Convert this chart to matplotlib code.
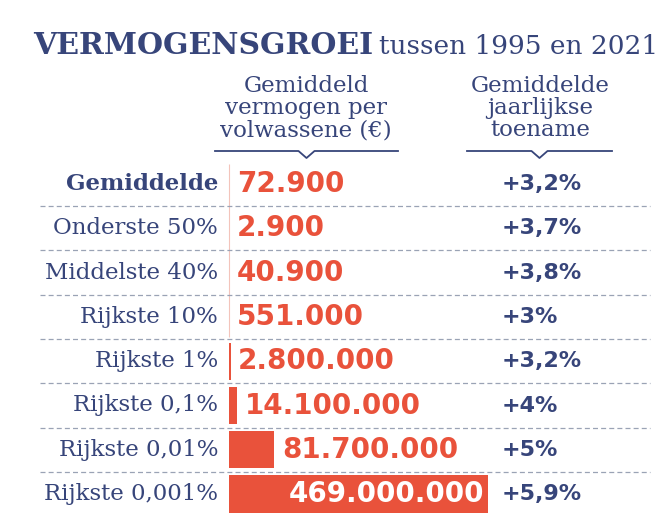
import matplotlib
matplotlib.use("Agg")
import matplotlib.pyplot as plt
from matplotlib.lines import Line2D

groups = ["Gemiddelde", "Onderste 50%", "Middelste 40%", "Rijkste 10%",
          "Rijkste 1%", "Rijkste 0,1%", "Rijkste 0,01%", "Rijkste 0,001%"]
wealth = [72900, 2900, 40900, 551000, 2800000, 14100000, 81700000, 469000000]
wealth_labels = ["72.900", "2.900", "40.900", "551.000", "2.800.000",
                 "14.100.000", "81.700.000", "469.000.000"]
growth = ["+3,2%", "+3,7%", "+3,8%", "+3%", "+3,2%", "+4%", "+5%", "+5,9%"]

NAVY = "#37457a"
RED = "#e9523b"
W, H = 670, 528

fig = plt.figure(figsize=(W / 100, H / 100), dpi=100)
ax = fig.add_axes([0, 0, 1, 1])
ax.axis("off")

# map data to pixels: 0 -> x=229, max -> x=488 ; row i -> y=184+44.3*i
s = max(wealth) / (488 - 229)
ax.set_xlim(-229 * s, (W - 229) * s)
ax.set_ylim((H - 184) / 44.3, -184 / 44.3)

ys = list(range(len(groups)))
ax.barh(ys, wealth, height=0.84, color=RED, left=0)
ax.vlines(0, -0.45, 3.45, color="#f3c4bb", lw=0.8)

for i in range(len(groups) - 1):
    ax.hlines(i + 0.5, 40 / W, 650 / W, transform=ax.get_yaxis_transform(),
              colors="#9aa3b5", linestyles=(0, (4, 2.5)), lw=0.9)

for i, (g, v, lab, gr) in enumerate(zip(groups, wealth, wealth_labels, growth)):
    ax.text(-11 * s, i, g, ha="right", va="center", fontsize=16.5,
            family="DejaVu Serif", color=NAVY,
            fontweight="bold" if i == 0 else "normal")
    if i == len(groups) - 1:
        ax.annotate(lab, (v, i), xytext=(-3, 0), textcoords="offset points",
                    ha="right", va="center", fontsize=20, fontweight="heavy",
                    color="white")
    else:
        ax.annotate(lab, (v, i), xytext=(5.5, 0), textcoords="offset points",
                    ha="left", va="center", fontsize=20, fontweight="heavy",
                    color=RED)
    ax.text(502 * s - 229 * s, i, gr, ha="left", va="center", fontsize=16,
            fontweight="bold", color=NAVY)

# title
t1 = fig.text(33 / W, 1 - 46 / H, "VERMOGENSGROEI", ha="left", va="center",
              fontsize=21.5, fontweight="heavy", family="DejaVu Serif",
              color=NAVY)
fig.canvas.draw()
bb = t1.get_window_extent()
fig.text((bb.x1 + 6) / W, 1 - 46 / H, "tussen 1995 en 2021", ha="left",
         va="center", fontsize=19, family="DejaVu Serif", color=NAVY)

# column headers
fig.text(306 / W, 1 - 108 / H, "Gemiddeld\nvermogen per\nvolwassene (€)",
         ha="center", va="center", fontsize=16.5, family="DejaVu Serif",
         color=NAVY, linespacing=1.0)
fig.text(540 / W, 1 - 108 / H, "Gemiddelde\njaarlijkse\ntoename",
         ha="center", va="center", fontsize=16.5, family="DejaVu Serif",
         color=NAVY, linespacing=1.0)


def bracket(x0, x1, y):
    xm = (x0 + x1) / 2
    xs = [x0, xm - 8, xm, xm + 8, x1]
    yy = [y, y, y + 7, y, y]
    fig.add_artist(Line2D([x / W for x in xs], [1 - v / H for v in yy],
                          color=NAVY, lw=1.3))


bracket(215, 398, 151)
bracket(467, 612, 151)

fig.savefig("out.png", dpi=100)
